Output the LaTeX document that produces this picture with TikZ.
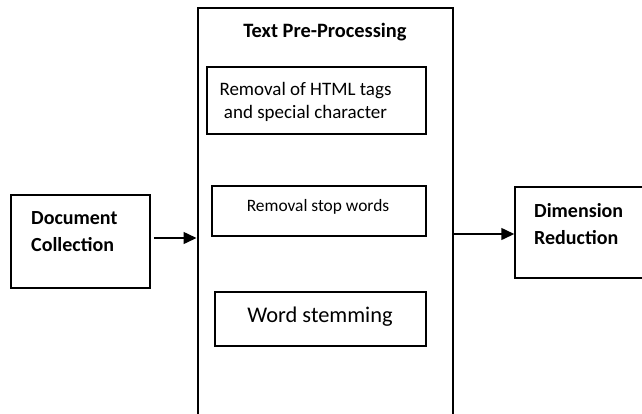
\documentclass[tikz,border=0pt]{standalone}
\usepackage{fontspec}
\setmainfont{Carlito}
\usetikzlibrary{arrows.meta}

\begin{document}
\begin{tikzpicture}[x=1pt, y=-1pt,
    box/.style={draw, line width=1.5pt, inner sep=0pt},
    lbl/.style={inner sep=0pt, align=center},
    bold/.style={lbl, font=\bfseries\fontsize{20}{27}\selectfont},
    arr/.style={line width=1.5pt, -{Triangle[length=13pt,width=12pt]}}]
  \clip (0,0) rectangle (642,413);
  % the pre-processing stage, it runs off the bottom
  \node[box, line width=2pt, minimum width=255pt, minimum height=432pt] (pre) at (325,224) {};
  \node[bold, font=\bfseries\fontsize{20.4}{27}\selectfont] (title) at (325,32) {Text Pre-Processing};
  \node[box, minimum width=219pt, minimum height=67pt] (html) at (316.5,100.5) {};
  \node[lbl, font=\fontsize{19}{23}\selectfont] (htmltxt) at (305.5,102) {Removal of HTML tags\\and special character};
  \node[box, minimum width=214pt, minimum height=50pt] (stop) at (319,211) {};
  \node[lbl, font=\fontsize{17.4}{21}\selectfont] (stoptxt) at (318,207) {Removal stop words};
  \node[box, minimum width=211pt, minimum height=54pt] (stem) at (320.5,319) {};
  \node[lbl, font=\fontsize{22.4}{27}\selectfont] (stemtxt) at (320,317) {Word stemming};
  % input and output
  \node[box, minimum width=139pt, minimum height=93pt] (doc) at (80.5,241.5) {};
  \node[bold, align=left, anchor=west] (doctxt) at (31,231.5) {Document\\Collection};
  \node[box, minimum width=145pt, minimum height=91pt] (dim) at (587.5,232.5) {};
  \node[bold, align=left, anchor=west] (dimtxt) at (534,224.5) {Dimension\\Reduction};
  \coordinate (a1) at ([xshift=3pt,yshift=3.5pt]doc.east);
  \draw[arr] (a1) -- (a1 -| pre.west);
  \coordinate (a2) at ([yshift=-1.5pt]dim.west);
  \draw[arr] (a2 -| pre.east) -- (a2);
\end{tikzpicture}
\end{document}
